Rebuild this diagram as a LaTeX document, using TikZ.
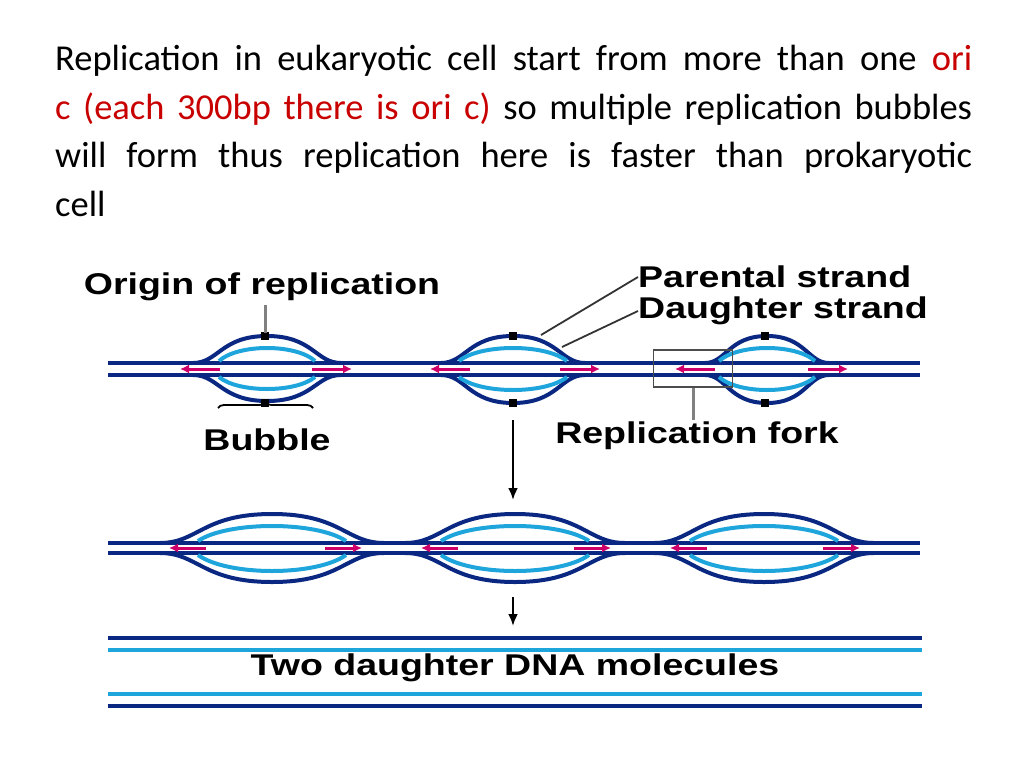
\documentclass[tikz,border=0pt]{standalone}
\usepackage{fontspec}
\setmainfont{Carlito}
\newfontfamily\lab[FakeStretch=1.25]{Liberation Sans}
\usetikzlibrary{arrows.meta,decorations.pathreplacing}
\definecolor{navy}{RGB}{10,40,130}
\definecolor{cyanst}{RGB}{30,165,220}
\definecolor{mag}{RGB}{205,0,105}
\definecolor{orired}{RGB}{200,0,0}
\tikzset{
  dark/.style={draw=navy,line width=4pt},
  light/.style={draw=cyanst,line width=4pt},
  fwd/.style={draw=mag,line width=3pt,-{Latex[length=9pt,width=9pt]}},
  lbl/.style={font=\lab\bfseries\fontsize{30}{34}\selectfont,inner sep=0pt},
  lead/.style={draw=black!80,line width=1.8pt},
}
\newcommand\mybub[9]{%
  \pgfmathsetmacro\xa{#1-#2}\pgfmathsetmacro\xb{#1+#2}%
  \pgfmathsetmacro\ca{#1-0.66*#2}\pgfmathsetmacro\cb{#1-0.62*#2}%
  \pgfmathsetmacro\cc{#1+0.62*#2}\pgfmathsetmacro\cd{#1+0.66*#2}%
  \fill[white] (\xa+6,#3+2.2) rectangle (\xb-6,#4-2.2);
  \draw[dark] (\xa,#3) .. controls (\ca,#3) and (\cb,#5) .. (#1,#5) .. controls (\cc,#5) and (\cd,#3) .. (\xb,#3);
  \draw[dark] (\xa,#4) .. controls (\ca,#4) and (\cb,#6) .. (#1,#6) .. controls (\cc,#6) and (\cd,#4) .. (\xb,#4);
  \pgfmathsetmacro\ia{#1-#7}\pgfmathsetmacro\ib{#1+#7}%
  \pgfmathsetmacro\ja{#1-0.6*#7}\pgfmathsetmacro\jb{#1+0.6*#7}%
  \pgfmathsetmacro\pt{#3-2+(#8-#3+2)*4/3}\pgfmathsetmacro\pb{#4+2+(#9-#4-2)*4/3}%
  \draw[light] (\ia,#3-2) .. controls (\ja,\pt) and (\jb,\pt) .. (\ib,#3-2);
  \draw[light] (\ia,#4+2) .. controls (\ja,\pb) and (\jb,\pb) .. (\ib,#4+2);
}
\begin{document}
\begin{tikzpicture}[x=1pt,y=-1pt]
\useasboundingbox (0,0) rectangle (1024,768);
\node[anchor=north west,text width=917pt,align=justify,inner sep=0pt,
  font=\fontsize{36.5}{48.5}\selectfont] (title) at (55,45)
 {Replication in eukaryotic cell start from more than one \textcolor{orired}{ori}\linebreak
 \textcolor{orired}{c (each 300bp there is ori c)} so multiple replication bubbles\linebreak
 will form thus replication here is faster than prokaryotic\linebreak cell\par};

% row 1
\draw[dark] (108,363) -- (920,363);
\draw[dark] (108,375) -- (920,375);
\mybub{267}{74}{363}{375}{336}{401}{48}{348}{389}
\mybub{513}{72}{363}{375}{336}{403}{54}{348}{390}
\mybub{767}{62}{363}{375}{336}{403}{48}{348}{390}
\foreach \x in {265,513,765}{
  \fill (\x-4,332) rectangle (\x+4,340);
  \fill (\x-4,399) rectangle (\x+4,407);}
\coordinate (a1s) at (220,369); \coordinate (a1e) at (180,369);
\coordinate (a2s) at (312,369); \coordinate (a2e) at (352,369);
\coordinate (a3s) at (470,369); \coordinate (a3e) at (430,369);
\coordinate (a4s) at (560,369); \coordinate (a4e) at (600,369);
\coordinate (a5s) at (715,369); \coordinate (a5e) at (675,369);
\coordinate (a6s) at (808,369); \coordinate (a6e) at (848,369);
\foreach \i in {1,...,6} \draw[fwd] (a\i s) -- (a\i e);

% labels row 1
\node[lbl] (ori) at (262,287) {Origin of replication};
\coordinate (orit) at (265,305); \coordinate (orib) at (265,333);
\draw[draw=gray,line width=3pt] (orit) -- (orib);
\node[lbl,anchor=west] (par) at (638,277) {Parental strand};
\node[lbl,anchor=west] (dau) at (638,311) {Daughter strand};
\coordinate (parp) at (541,335); \coordinate (daup) at (562,347);
\draw[lead] (par.west) -- (parp);
\draw[lead] (dau.west) -- (daup);
\node[draw=black!70,line width=1.8pt,minimum width=79pt,minimum height=37pt,inner sep=0pt] (box) at (693,368.5) {};
\node[lbl] (fork) at (697,436) {Replication fork};
\draw[draw=gray,line width=3pt] (box.south) -- (box.south |- 0,420);
\coordinate (br1) at (313,408); \coordinate (br2) at (218,408);
\draw[line width=1.8pt,decorate,decoration={brace,amplitude=6pt,mirror}] (br1) -- (br2);
\node[lbl] (bub) at (267,440) {Bubble};

% arrow 1
\coordinate (d1s) at (513,420); \coordinate (d1e) at (513,500);
\draw[line width=2.4pt,-{Latex[length=12pt,width=10pt]}] (d1s) -- (d1e);

% row 2
\draw[dark] (108,543) -- (920,543);
\draw[dark] (108,553) -- (920,553);
\mybub{272}{112}{543}{553}{514}{582}{74}{526}{571}
\mybub{515}{110}{543}{553}{514}{582}{74}{526}{571}
\mybub{764}{110}{543}{553}{514}{582}{74}{526}{571}
\coordinate (b1s) at (206,548); \coordinate (b1e) at (169,548);
\coordinate (b2s) at (325,548); \coordinate (b2e) at (362,548);
\coordinate (b3s) at (458,548); \coordinate (b3e) at (421,548);
\coordinate (b4s) at (574,548); \coordinate (b4e) at (611,548);
\coordinate (b5s) at (707,548); \coordinate (b5e) at (670,548);
\coordinate (b6s) at (823,548); \coordinate (b6e) at (860,548);
\foreach \i in {1,...,6} \draw[fwd] (b\i s) -- (b\i e);

% arrow 2
\coordinate (d2s) at (513,597); \coordinate (d2e) at (513,626);
\draw[line width=2.4pt,-{Latex[length=12pt,width=10pt]}] (d2s) -- (d2e);

% row 3
\draw[dark] (108,638) -- (922,638);
\draw[light] (108,650) -- (922,650);
\node[lbl] (two) at (515,668) {Two daughter DNA molecules};
\draw[light] (108,694) -- (922,694);
\draw[dark] (108,706) -- (922,706);
\end{tikzpicture}
\end{document}
